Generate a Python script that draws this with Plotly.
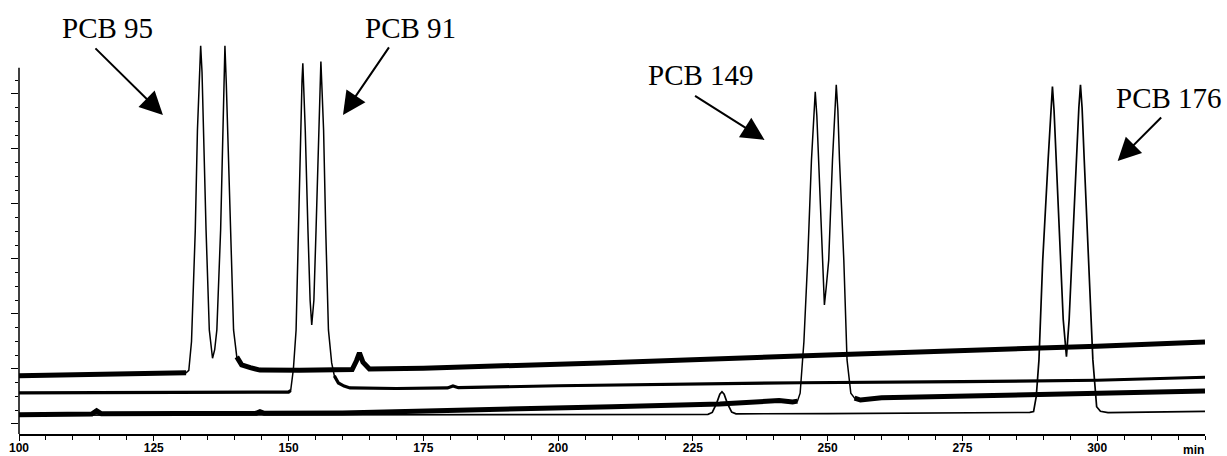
import plotly.graph_objects as go

# ---------------- data (retention time in min, detector signal in arbitrary units) ----------------
# Trace A: PCB 95
A_t = [100, 112, 124, 131.0, 131.5, 132.0, 132.4, 132.7, 133.1, 133.45, 133.7, 133.95, 134.3, 134.7,
       135.3, 135.9, 136.3, 136.7, 137.4, 137.9, 138.2, 138.45, 138.7, 139.2, 139.8, 140.4, 141.3,
       142.9, 144.7, 152, 160, 161.8, 162.6, 163.15, 163.8, 165.0, 175, 207.8, 250, 275, 300, 320]
A_y = [17.5, 17.8, 18.2, 18.6, 19.5, 30, 50, 70.5, 106.9, 130, 137.5, 128, 100, 70.5,
       34.2, 23.9, 27, 34.2, 70.5, 106.9, 137.5, 124, 106.9, 70.5, 34.2, 24.4, 21.5,
       20.5, 19.6, 19.5, 19.5, 19.8, 23.0, 25.9, 22.5, 20.0, 20.3, 22.2, 25.1, 26.5, 28.3, 29.8]

# Trace B: PCB 91
B_t = [100, 125, 150.0, 150.4, 150.9, 151.4, 151.8, 152.3, 152.5, 152.65, 152.85, 153.1, 153.6,
       154.0, 154.3, 154.7, 155.1, 155.7, 155.85, 156.0, 156.2, 156.5, 156.9, 157.4, 158.0, 158.5,
       159.25, 160.3, 161.4, 170, 179.5, 180.5, 181.5, 200, 245, 275, 300, 320]
B_y = [11.3, 11.4, 11.6, 12.2, 20, 34.2, 70.5, 106.9, 125, 131.2, 122, 106.9, 70.5,
       45, 36.0, 45, 70.5, 106.9, 122, 131.8, 122, 106.9, 70.5, 34.2, 22.2, 17.5,
       14.9, 13.8, 13.1, 12.9, 13.1, 13.8, 13.2, 13.9, 15.0, 15.4, 15.9, 17.0]

# Trace C: PCB 149
C_t = [100, 113.5, 114.4, 115.3, 130, 144.0, 144.7, 145.5, 160, 175, 190, 210, 230, 241, 243.5,
       244.4, 244.9, 245.6, 246.3, 247.0, 247.4, 247.7, 248.0, 248.3, 249.0, 249.4, 249.75, 250.2,
       250.9, 251.3, 251.6, 251.9, 252.2, 253.0, 253.6, 254.3, 255.0, 256.1, 260, 280, 300, 320]
C_y = [3.4, 3.6, 4.8, 3.7, 3.8, 3.9, 4.5, 3.9, 4.0, 4.6, 5.3, 6.3, 7.3, 8.5, 8.0,
       8.3, 11.2, 30, 59.6, 96.0, 112, 120.8, 112, 96.0, 59.6, 43.3, 50, 59.6,
       96.0, 114, 123.3, 114, 96.0, 59.6, 23.3, 11.2, 9.4, 8.7, 9.5, 10.2, 10.9, 12.0]

# Trace D: PCB 176
D_t = [100, 150, 175, 200, 227.8, 228.6, 229.4, 230.0, 230.4, 230.8, 231.4, 232.2, 233.0, 250, 270,
       287.5, 288.2, 288.7, 289.2, 289.9, 290.9, 291.4, 291.7, 292.0, 292.4, 293.1, 293.7, 294.3,
       294.8, 295.3, 296.1, 296.6, 296.9, 297.2, 297.6, 298.4, 299.2, 299.9, 300.6, 302, 320]
D_y = [3.2, 3.4, 3.5, 3.5, 3.5, 4.2, 7.5, 10.8, 11.7, 10.8, 7.5, 4.3, 3.7, 3.8, 3.9,
       4.2, 4.5, 10, 23.3, 59.6, 96.0, 114, 122.7, 114, 96.0, 59.6, 38, 24.5,
       38, 59.6, 96.0, 115, 123.3, 115, 96.0, 59.6, 23.3, 6.3, 4.6, 4.1, 4.6]

x_tick_vals = [100, 125, 150, 175, 200, 225, 250, 275, 300]
x_tick_text = ["100", "125", "150", "175", "200", "225", "250", "275", "300"]

labels = ["PCB 95", "PCB 91", "PCB 149", "PCB 176"]

# ---------------- styling / layout helpers ----------------
X_RANGE = [100, 320]
Y_RANGE = [-3.64, 146.9]

# windows (min) where a trace is drawn only as a thin line (peak regions)
thin_windows = {
    "A": (131.0, 140.4),
    "B": (150.4, 158.5),
    "C": (244.4, 255.0),
}

fig = go.Figure()


def add_trace(t, y, key, thick_w):
    fig.add_trace(go.Scatter(x=t, y=y, mode="lines",
                             line=dict(color="black", width=1.5),
                             hoverinfo="skip", showlegend=False))
    if thick_w and key in thin_windows:
        a, b = thin_windows[key]
        yy = [v if (tt <= a or tt >= b) else None for tt, v in zip(t, y)]
        fig.add_trace(go.Scatter(x=t, y=yy, mode="lines",
                                 line=dict(color="black", width=thick_w),
                                 connectgaps=False, hoverinfo="skip", showlegend=False))


add_trace(A_t, A_y, "A", 5)
add_trace(B_t, B_y, "B", 3.2)
add_trace(C_t, C_y, "C", 5)
fig.add_trace(go.Scatter(x=D_t, y=D_y, mode="lines", line=dict(color="black", width=1.7),
                         hoverinfo="skip", showlegend=False))

serif = "Liberation Serif, Times New Roman, serif"

# label text positions (data coords) and arrow tip positions (data coords) with tail pixel offsets
label_pos = [(116.4, 144.0), (172.6, 144.0), (226.6, 126.9), (313.3, 118.4)]
arrow_tip = [(126.7, 112.4), (160.1, 112.4), (238.3, 103.3), (303.8, 95.6)]
arrow_off = [(-69, -68), (47, -69), (-71, -45), (45, -45)]

annotations = []
for txt, (lx, ly), (tx, ty), (ax, ay) in zip(labels, label_pos, arrow_tip, arrow_off):
    annotations.append(dict(x=lx, y=ly, xref="x", yref="y", text=txt, showarrow=False,
                            font=dict(family=serif, size=29, color="black"),
                            xanchor="center", yanchor="middle"))
    annotations.append(dict(x=tx, y=ty, xref="x", yref="y", text="", showarrow=True,
                            ax=ax, ay=ay, arrowhead=2, arrowsize=2.3, arrowwidth=2,
                            arrowcolor="black"))

annotations.append(dict(x=0.9907, y=-0.039, xref="paper", yref="paper", text="<b>min</b>",
                        showarrow=False, font=dict(family="Liberation Sans, Arial", size=12, color="black"),
                        xanchor="center", yanchor="middle"))

fig.update_layout(
    width=1227, height=456,
    margin=dict(l=19, r=22, t=20, b=22, pad=0),
    paper_bgcolor="white", plot_bgcolor="white",
    annotations=annotations,
    shapes=[dict(type="line", xref="paper", yref="y", x0=0, x1=0, y0=Y_RANGE[0], y1=129.5,
                 line=dict(color="black", width=1.5))],
    xaxis=dict(range=X_RANGE, showgrid=False, zeroline=False, showline=True,
               linecolor="black", linewidth=1.5,
               tickmode="array", tickvals=x_tick_vals,
               ticktext=["<b>%s</b>" % s for s in x_tick_text],
               ticks="outside", ticklen=5, tickwidth=1.3, tickcolor="black",
               ticklabelstandoff=-3,
               tickfont=dict(family="Liberation Sans, Arial", size=12, color="black"),
               minor=dict(tickmode="linear", tick0=100, dtick=5, ticks="outside",
                          ticklen=4, tickwidth=1.2, tickcolor="black", showgrid=False),
               automargin=False),
    yaxis=dict(range=Y_RANGE, showgrid=False, zeroline=False, showline=False,
               tickmode="array", tickvals=[0, 20, 40, 60, 80, 100, 120],
               showticklabels=False, ticks="outside", ticklen=7, tickwidth=1.3, tickcolor="black",
               minor=dict(tickmode="array", tickvals=[v for v in range(5, 126, 5) if v % 20],
                          ticks="outside", ticklen=3.5, tickwidth=1.2, tickcolor="black",
                          showgrid=False),
               automargin=False),
)

fig.write_html("out.html")
